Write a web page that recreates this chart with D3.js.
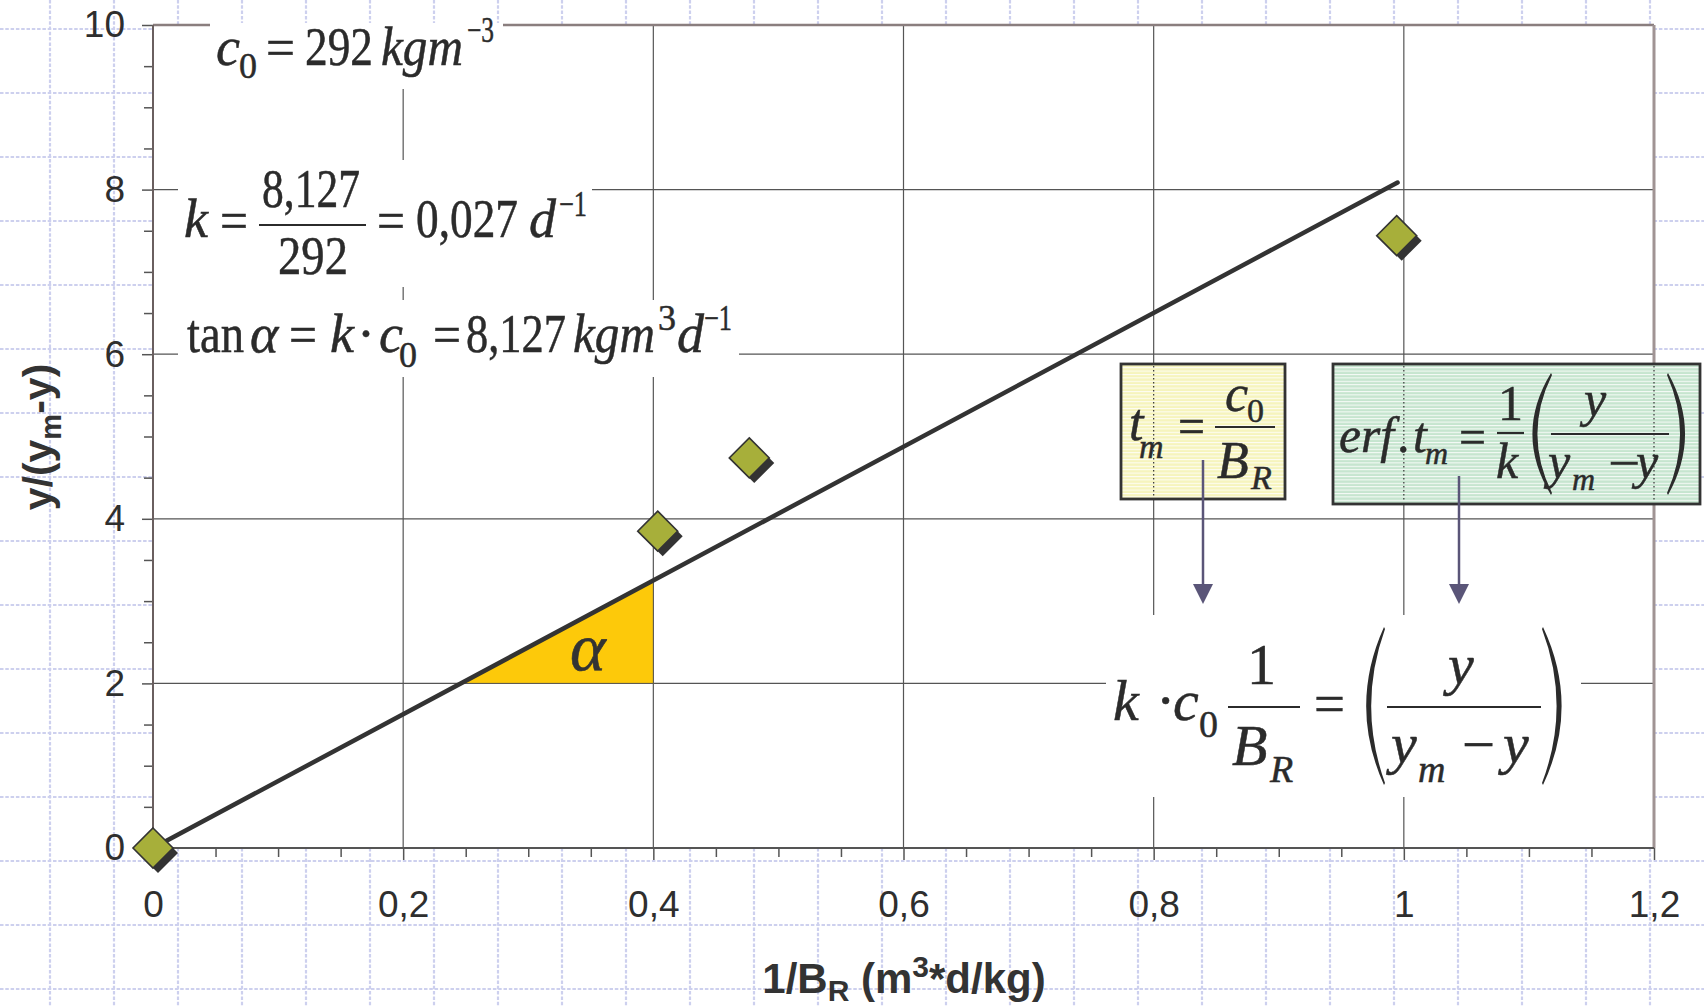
<!DOCTYPE html>
<html><head><meta charset="utf-8">
<script src="https://cdn.jsdelivr.net/npm/d3@7"></script>
<style>body{margin:0;background:#fff;} svg{display:block;}</style>
</head><body><svg id="c" width="1704" height="1006"></svg>
<script>
// ---- data ----
const xTicks = [0, 0.2, 0.4, 0.6, 0.8, 1, 1.2];
const xTickLabels = ["0", "0,2", "0,4", "0,6", "0,8", "1", "1,2"];
const yTicks = [0, 2, 4, 6, 8, 10];
const yTickLabels = ["0", "2", "4", "6", "8", "10"];
const pointsX = [0, 0.4035, 0.4767, 0.9943];
const pointsY = [0, 3.85, 4.74, 7.44];
const fitSlope = 8.127;        // tan(alpha) = k*c0
const fitXEnd = 0.995;
const triBaseY = 2;
const triRightX = 0.4;

const W = 1704, H = 1006;
const svg = d3.select("#c");
const x = d3.scaleLinear().domain([0, 1.2]).range([153, 1654]);
const y = d3.scaleLinear().domain([0, 10]).range([848, 25]);
const SANS = "'Liberation Sans', Arial, Helvetica, sans-serif";
const SERIF = "'Liberation Serif', 'Times New Roman', serif";

// ---- background dotted grid ----
const bg = svg.append("g");
for (let gx = 50; gx < W; gx += 64)
  bg.append("line").attr("x1", gx).attr("x2", gx).attr("y1", 0).attr("y2", H)
    .attr("stroke", "#cdd0ee").attr("stroke-width", 2.2).attr("stroke-dasharray", "3.5,1.8");
for (let gy = 29; gy < H; gy += 64)
  bg.append("line").attr("x1", 0).attr("x2", W).attr("y1", gy).attr("y2", gy)
    .attr("stroke", "#cdd0ee").attr("stroke-width", 2.2).attr("stroke-dasharray", "3.5,1.8");

// ---- plot area ----
svg.append("rect").attr("x", x(0)).attr("y", y(10)).attr("width", x(1.2) - x(0)).attr("height", y(0) - y(10)).attr("fill", "#fff");

const grid = svg.append("g").attr("stroke", "#555").attr("stroke-width", 1.2);
xTicks.filter(d => d > 0 && d < 1.2).forEach(d =>
  grid.append("line").attr("x1", x(d)).attr("x2", x(d)).attr("y1", y(0)).attr("y2", y(10)));
yTicks.filter(d => d > 0 && d < 10).forEach(d =>
  grid.append("line").attr("x1", x(0)).attr("x2", x(1.2)).attr("y1", y(d)).attr("y2", y(d)));

// top & right borders
svg.append("line").attr("x1", x(0)).attr("x2", x(1.2)).attr("y1", y(10)).attr("y2", y(10)).attr("stroke", "#8a7e7e").attr("stroke-width", 2.5);
svg.append("line").attr("x1", x(1.2)).attr("x2", x(1.2)).attr("y1", y(10)).attr("y2", y(0)).attr("stroke", "#a09494").attr("stroke-width", 3);

// white knockouts behind formulas
const knock = [[210, 23, 293, 66], [178, 160, 414, 127], [178, 300, 561, 77], [1106, 615, 475, 182]];
knock.forEach(k => svg.append("rect").attr("x", k[0]).attr("y", k[1]).attr("width", k[2]).attr("height", k[3]).attr("fill", "#fff"));

// ---- axes ----
const minorX = d3.range(0, 1.2001, 0.05).filter(v => Math.abs(v * 5 - Math.round(v * 5)) > 1e-6);
const minorY = d3.range(0, 10.001, 0.5).filter(v => Math.abs(v / 2 - Math.round(v / 2)) > 1e-6);

const gxMin = svg.append("g").attr("transform", `translate(0,${y(0)})`)
  .call(d3.axisBottom(x).tickValues(minorX).tickSize(9).tickFormat(""));
const gxMaj = svg.append("g").attr("transform", `translate(0,${y(0)})`)
  .call(d3.axisBottom(x).tickValues(xTicks).tickSize(12).tickPadding(31).tickFormat((d, i) => xTickLabels[i]));
const gyMin = svg.append("g").attr("transform", `translate(${x(0)},0)`)
  .call(d3.axisLeft(y).tickValues(minorY).tickSize(9).tickFormat(""));
const gyMaj = svg.append("g").attr("transform", `translate(${x(0)},0)`)
  .call(d3.axisLeft(y).tickValues(yTicks).tickSize(11).tickPadding(17).tickFormat((d, i) => yTickLabels[i]));
[gxMin, gxMaj, gyMin, gyMaj].forEach(g => {
  g.select(".domain").remove();
  g.selectAll(".tick line").attr("stroke", "#555").attr("stroke-width", 1.5);
  g.selectAll(".tick text").attr("font-family", SANS).attr("font-size", 37).attr("fill", "#2e2e2e");
});
svg.append("line").attr("x1", x(0)).attr("x2", x(1.2)).attr("y1", y(0)).attr("y2", y(0)).attr("stroke", "#555").attr("stroke-width", 2);
svg.append("line").attr("x1", x(0)).attr("x2", x(0)).attr("y1", y(0)).attr("y2", y(10)).attr("stroke", "#6a5f5f").attr("stroke-width", 2);

// axis titles
const xl = svg.append("text").attr("x", 904).attr("y", 993).attr("text-anchor", "middle")
  .attr("font-family", SANS).attr("font-weight", "bold").attr("font-size", 42).attr("fill", "#333");
xl.append("tspan").text("1/B");
xl.append("tspan").text("R").attr("font-size", 30).attr("dy", 8);
xl.append("tspan").text(" (m").attr("dy", -8);
xl.append("tspan").text("3").attr("font-size", 30).attr("dy", -16);
xl.append("tspan").text("*d/kg)").attr("dy", 16);

const yl = svg.append("text").attr("transform", "translate(52,437) rotate(-90)").attr("text-anchor", "middle")
  .attr("font-family", SANS).attr("font-weight", "bold").attr("font-size", 41).attr("fill", "#333");
yl.append("tspan").text("y/(y");
yl.append("tspan").text("m").attr("font-size", 29).attr("dy", 9);
yl.append("tspan").text("-y)").attr("dy", -9);

// ---- slope triangle ----
const triPts = [[triBaseY / fitSlope, triBaseY], [triRightX, triBaseY], [triRightX, fitSlope * triRightX]];
svg.append("path").attr("d", d3.line().x(d => x(d[0])).y(d => y(d[1]))(triPts) + "Z")
  .attr("fill", "#fdc90a").attr("stroke", "#555").attr("stroke-width", 1);
svg.append("text").attr("x", 570).attr("y", 670).attr("font-family", SERIF).attr("font-style", "italic")
  .attr("font-size", 68).attr("fill", "#333").attr("stroke", "#333").attr("stroke-width", 0.6).text("α");

// ---- fit line ----
svg.append("path").attr("d", d3.line().x(d => x(d[0])).y(d => y(d[1]))([[0, 0], [fitXEnd, fitSlope * fitXEnd]]))
  .attr("stroke", "#333").attr("stroke-width", 4.5).attr("stroke-linecap", "round").attr("fill", "none");

// ---- markers ----
const r = 20;
const dia = `M0,${-r}L${r},0L0,${r}L${-r},0Z`;
const pts = pointsX.map((v, i) => [v, pointsY[i]]);
svg.append("g").selectAll("path.sh").data(pts).join("path")
  .attr("d", dia).attr("transform", d => `translate(${x(d[0]) + 5},${y(d[1]) + 5})`).attr("fill", "#333");
svg.append("g").selectAll("path.mk").data(pts).join("path")
  .attr("d", dia).attr("transform", d => `translate(${x(d[0])},${y(d[1])})`)
  .attr("fill", "#a7af3a").attr("stroke", "#333").attr("stroke-width", 1.6);

// ---- formula boxes ----
const defs = svg.append("defs");
function stripe(id, col) {
  const p = defs.append("pattern").attr("id", id).attr("width", 8).attr("height", 3.4).attr("patternUnits", "userSpaceOnUse");
  p.append("rect").attr("width", 8).attr("height", 3.4).attr("fill", col);
  p.append("rect").attr("width", 8).attr("height", 1).attr("fill", "#fff").attr("opacity", 0.85);
}
stripe("py", "#f6f4bd");
stripe("pg", "#c6e5cf");
svg.append("rect").attr("x", 1121).attr("y", 364).attr("width", 164).attr("height", 135)
  .attr("fill", "url(#py)").attr("stroke", "#333").attr("stroke-width", 2.8);
svg.append("rect").attr("x", 1333).attr("y", 364).attr("width", 367).attr("height", 140)
  .attr("fill", "url(#pg)").attr("stroke", "#333").attr("stroke-width", 2.8);
// grid lines seen dotted through the boxes
[[0.8, 366, 497], [1, 366, 502], [1.2, 366, 502]].forEach(d =>
  svg.append("line").attr("x1", x(d[0])).attr("x2", x(d[0])).attr("y1", d[1]).attr("y2", d[2])
    .attr("stroke", "#333").attr("stroke-width", 1.2).attr("stroke-dasharray", "1.5,2.5"));

// arrows
[[1203, 460], [1459, 476]].forEach(a => {
  svg.append("line").attr("x1", a[0]).attr("x2", a[0]).attr("y1", a[1]).attr("y2", 588)
    .attr("stroke", "#5a5578").attr("stroke-width", 2.5);
  svg.append("path").attr("d", `M${a[0] - 10},584L${a[0] + 10},584L${a[0]},604Z`).attr("fill", "#5a5578");
});

// ---- formulas ----
const fg = svg.append("g").attr("fill", "#2b2b2b");
function tx(p) {
  const [s, px, py, size, it, w] = p;
  const t = fg.append("text").attr("x", px).attr("y", py).attr("font-size", size)
    .attr("font-family", SERIF).attr("fill", "#2b2b2b").attr("stroke", "#2b2b2b").attr("stroke-width", 0.5).text(s);
  if (it) t.attr("font-style", "italic");
  if (w) t.attr("textLength", w).attr("lengthAdjust", "spacingAndGlyphs");
}
function bar(x1, x2, yy) {
  fg.append("line").attr("x1", x1).attr("x2", x2).attr("y1", yy).attr("y2", yy).attr("stroke", "#2b2b2b").attr("stroke-width", 2.2);
}
function paren(x1, x2, t, b, right) {
  const w = x2 - x1, m = (t + b) / 2;
  let d;
  if (!right) d = `M${x2},${t}Q${x1 - w * 0.55},${m} ${x2},${b}L${x2 + 1},${b - 2}Q${x1 - w * 0.55 + 9},${m} ${x2 + 1},${t + 2}Z`;
  else d = `M${x1},${t}Q${x2 + w * 0.55},${m} ${x1},${b}L${x1 - 1},${b - 2}Q${x2 + w * 0.55 - 9},${m} ${x1 - 1},${t + 2}Z`;
  fg.append("path").attr("d", d).attr("fill", "#2b2b2b");
}

// c0 = 292 kgm^-3
[["c", 216, 65, 54, 1], ["0", 239, 78, 36], ["=", 266, 66, 54, 0, 29], ["292", 305, 65, 54, 0, 68],
 ["kgm", 381, 65, 54, 1, 82], ["−3", 467, 42, 36, 0, 27]].forEach(tx);

// k = 8,127/292 = 0,027 d^-1
[["k", 184, 237, 54, 1], ["=", 220, 239, 54, 0, 28], ["8,127", 262, 207, 54, 0, 98], ["292", 278, 274, 54, 0, 70],
 ["=", 377, 239, 54, 0, 28], ["0,027", 416, 237, 54, 0, 102], ["d", 529, 237, 54, 1], ["−1", 559, 216, 36, 0, 28]].forEach(tx);
bar(259, 366, 225);

// tan a = k.c0 = 8,127 kgm3 d-1
[["tan", 187, 352, 54, 0, 57], ["α", 250, 352, 54, 1], ["=", 289, 353, 54, 0, 28], ["k", 330, 352, 54, 1],
 ["·", 357, 352, 54], ["c", 379, 352, 54, 1], ["0", 399, 367, 36], ["=", 433, 353, 54, 0, 28],
 ["8,127", 466, 352, 54, 0, 100], ["kgm", 573, 352, 54, 1, 82], ["3", 658, 330, 36], ["d", 677, 352, 54, 1],
 ["−1", 704, 330, 36, 0, 28]].forEach(tx);

// t_m = c0 / B_R
[["t", 1129, 440, 52, 1], ["m", 1139, 458, 34, 1], ["=", 1178, 444, 52, 0, 27], ["c", 1225, 411, 52, 1],
 ["0", 1247, 422, 34], ["B", 1217, 478, 52, 1], ["R", 1251, 489, 34, 1]].forEach(tx);
bar(1215, 1275, 427);

// erf.t_m = 1/k ( y / (y_m - y) )
[["erf", 1339, 452, 50, 1, 55], [".", 1397, 452, 50], ["t", 1413, 452, 50, 1], ["m", 1425, 464, 32, 1],
 ["=", 1459, 454, 50, 0, 27], ["1", 1498, 420, 50], ["k", 1496, 478, 50, 1], ["y", 1584, 416, 50, 1],
 ["y", 1548, 478, 50, 1], ["m", 1572, 490, 32, 1], ["−", 1608, 480, 50, 0, 32], ["y", 1636, 478, 50, 1]].forEach(tx);
bar(1497, 1524, 433);
bar(1551, 1669, 434);
paren(1527, 1551, 373, 495, false);
paren(1668, 1690, 373, 495, true);

// k . c0 1/B_R = ( y / (y_m - y) )
[["k", 1113, 720, 58, 1], ["·", 1156, 720, 58], ["c", 1173, 720, 58, 1], ["0", 1199, 737, 38],
 ["1", 1247, 684, 58], ["B", 1232, 765, 58, 1], ["R", 1270, 782, 38, 1], ["=", 1314, 723, 58, 0, 31],
 ["y", 1448, 684, 58, 1], ["y", 1391, 763, 58, 1], ["m", 1418, 782, 38, 1], ["−", 1462, 764, 58, 0, 33],
 ["y", 1503, 763, 58, 1]].forEach(tx);
bar(1228, 1300, 707);
bar(1387, 1541, 707);
paren(1361, 1384, 627, 785, false);
paren(1543, 1567, 627, 785, true);
</script></body></html>
